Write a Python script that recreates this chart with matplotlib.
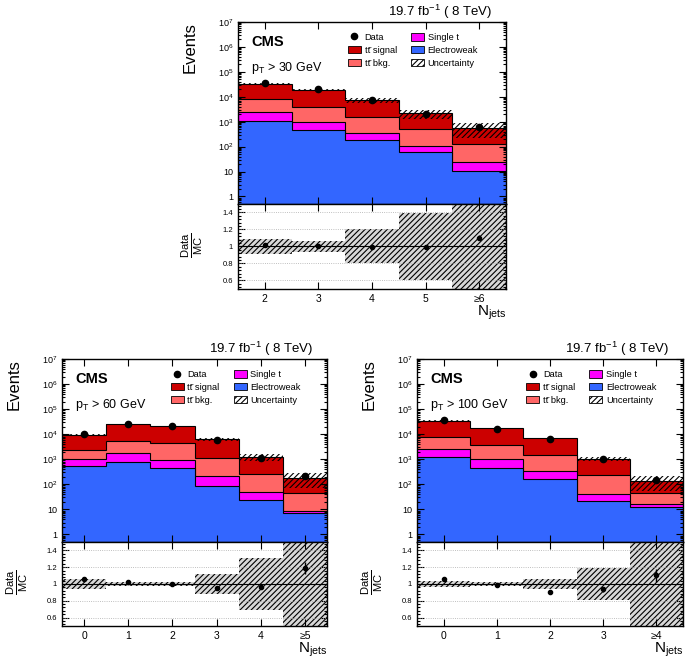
import numpy as np
import matplotlib
matplotlib.use('Agg')
import matplotlib.pyplot as plt
from matplotlib.patches import Patch
from matplotlib.lines import Line2D
from matplotlib.ticker import FixedLocator, MultipleLocator, LogLocator, NullFormatter

plt.rcParams['font.family'] = ['Liberation Sans', 'DejaVu Sans']
plt.rcParams['mathtext.fontset'] = 'custom'
plt.rcParams['mathtext.rm'] = 'Liberation Sans'
plt.rcParams['mathtext.it'] = 'Liberation Sans:italic'
plt.rcParams['mathtext.bf'] = 'Liberation Sans:bold'
plt.rcParams['hatch.linewidth'] = 0.8

COL_SIG = '#cc0000'
COL_BKG = '#ff6666'
COL_ST = '#ff00ff'
COL_EW = '#3366ff'

# pT > 30 GeV
labels_30 = ['2', '3', '4', '5', '≥6']
data_30 = [34700, 19800, 7300, 2130, 595]
sig_30 = [26200, 15600, 5850, 1660, 412]
bkg_30 = [5440, 3000, 1160, 380, 104]
st_30 = [1260, 540, 155, 50, 13]
ew_30 = [1100, 460, 185, 60, 11]
unc_30 = [0.09, 0.06, 0.20, 0.39, 0.60]
rerr_30 = [0.01, 0.01, 0.01, 0.015, 0.03]

# pT > 60 GeV
labels_60 = ['0', '1', '2', '3', '4', '≥5']
data_60 = [9940, 25600, 21500, 6010, 1160, 214]
sig_60 = [7050, 19600, 17100, 5130, 945, 134]
bkg_60 = [1350, 3660, 3460, 960, 205, 37.4]
st_60 = [440, 980, 500, 121, 27, 1.6]
ew_60 = [560, 760, 440, 89, 23, 7]
unc_60 = [0.06, 0.02, 0.02, 0.12, 0.31, 0.60]
rerr_60 = [0.01, 0.008, 0.008, 0.015, 0.03, 0.07]

# pT > 100 GeV
labels_100 = ['0', '1', '2', '3', '≥4']
data_100 = [37000, 16700, 6280, 1000, 152]
sig_100 = [27400, 13200, 5460, 840, 94]
bkg_100 = [5040, 2770, 1110, 190, 28]
st_100 = [1360, 580, 170, 19, 3]
ew_100 = [1200, 450, 160, 21, 13]
unc_100 = [0.03, 0.02, 0.055, 0.19, 0.60]
rerr_100 = [0.006, 0.008, 0.012, 0.03, 0.08]

legend_names = ['Data', 'tt\u0304 signal', 'tt\u0304 bkg.',
                'Single t', 'Electroweak', 'Uncertainty']


def style_axis(ax):
    ax.tick_params(which='both', direction='in', top=True, right=True,
                   width=0.8, color='black')
    ax.tick_params(which='major', length=5)
    ax.tick_params(which='minor', length=2.5)
    for s in ax.spines.values():
        s.set_linewidth(1.0)


def draw_panel(rect_main, rect_ratio, labels, data, sig, bkg, st, ew, unc,
               rerr, cut_text):
    n = len(labels)
    x = np.arange(n)
    edges = np.arange(n + 1) - 0.5
    comps = np.array([ew, st, bkg, sig], dtype=float)
    colors = [COL_EW, COL_ST, COL_BKG, COL_SIG]
    cum = np.cumsum(comps, axis=0)
    total = cum[-1]
    unc = np.array(unc)
    data = np.array(data, dtype=float)

    ax = fig.add_axes(rect_main)
    for level, color in reversed(list(zip(cum, colors))):
        ax.stairs(level, edges, baseline=1e-3, fill=True, color=color, lw=0)
        ax.stairs(level, edges, baseline=None, color='black', lw=0.8)
    ax.stairs(total * (1 + unc), edges, baseline=total * (1 - unc), fill=True,
              facecolor='none', edgecolor='black', hatch='//////', lw=0)
    ax.plot(x, data, 'o', color='black', ms=4.5)

    ax.set_yscale('log')
    ax.set_ylim(0.5, 1e7)
    ax.set_xlim(-0.5, n - 0.5)
    ax.yaxis.set_major_locator(FixedLocator([1, 10, 1e2, 1e3, 1e4, 1e5, 1e6, 1e7]))
    ax.set_yticklabels(['1', '10', '$10^{2}$', '$10^{3}$', '$10^{4}$',
                        '$10^{5}$', '$10^{6}$', '$10^{7}$'])
    ax.yaxis.set_minor_locator(LogLocator(subs=np.arange(2, 10)))
    ax.yaxis.set_minor_formatter(NullFormatter())
    ax.set_xticks(x)
    ax.tick_params(axis='x', labelbottom=False)
    style_axis(ax)
    ax.tick_params(axis='y', labelsize=6.5)

    ax.text(0.05, 0.89, 'CMS', transform=ax.transAxes, fontsize=10.5,
            fontweight='bold', va='center', ha='left')
    ax.text(0.05, 0.75, 'p$_{\\mathrm{T}}$ > ' + cut_text, transform=ax.transAxes,
            fontsize=9, va='center', ha='left')
    ax.text(0.95, 1.004, '19.7 fb$^{-1}$ ( 8 TeV)', transform=ax.transAxes,
            fontsize=9.5, va='bottom', ha='right')
    ax.text(-0.18, 1.0, 'Events', transform=ax.transAxes, fontsize=12,
            rotation=90, va='top', ha='center')

    handles = [
        Line2D([], [], marker='o', color='black', ls='none', ms=4.5),
        Patch(facecolor=COL_SIG, edgecolor='black', lw=0.6),
        Patch(facecolor=COL_BKG, edgecolor='black', lw=0.6),
        Patch(facecolor=COL_ST, edgecolor='black', lw=0.6),
        Patch(facecolor=COL_EW, edgecolor='black', lw=0.6),
        Patch(facecolor='white', edgecolor='black', hatch='//////', lw=0.6),
    ]
    ax.legend(handles, legend_names, ncol=2, loc='upper left',
              bbox_to_anchor=(0.41, 0.94), frameon=False, fontsize=6.7,
              handlelength=1.4, handleheight=0.9, labelspacing=0.4,
              handletextpad=0.4, columnspacing=1.5, borderpad=0,
              borderaxespad=0)

    rx = fig.add_axes(rect_ratio)
    rx.stairs(1 + unc, edges, baseline=1 - unc, fill=True, facecolor='#d8d8d8',
              edgecolor='black', hatch='//////', lw=0)
    for g in [0.6, 0.8, 1.2, 1.4]:
        rx.axhline(g, color='#aaaaaa', ls=':', lw=0.6)
    rx.axhline(1.0, color='black', lw=0.8)
    rx.errorbar(x, data / total, yerr=rerr, fmt='o', color='black', ms=3,
                elinewidth=1, capsize=0)
    rx.set_xlim(-0.5, n - 0.5)
    rx.set_ylim(0.5, 1.5)
    rx.set_xticks(x)
    rx.set_xticklabels(labels, fontsize=7.5)
    rx.set_yticks([0.6, 0.8, 1.0, 1.2, 1.4])
    rx.set_yticklabels(['0.6', '0.8', '1', '1.2', '1.4'])
    rx.yaxis.set_minor_locator(MultipleLocator(0.04))
    style_axis(rx)
    rx.tick_params(axis='y', labelsize=5.5)
    rx.tick_params(axis='x', which='minor', bottom=False, top=False)
    rx.text(1.0, -0.28, 'N$_{\\mathrm{jets}}$', transform=rx.transAxes,
            fontsize=11, va='center', ha='right')
    rx.text(-0.17, 0.52, '$\\frac{\\mathrm{Data}}{\\mathrm{MC}}$',
            transform=rx.transAxes, fontsize=11.5, rotation=90,
            va='center', ha='center')


fig = plt.figure(figsize=(6.85, 6.61), dpi=100)

draw_panel([0.3474, 0.6914, 0.3912, 0.2753], [0.3474, 0.5628, 0.3912, 0.1286],
           labels_30, data_30, sig_30, bkg_30, st_30, ew_30, unc_30, rerr_30,
           '30 GeV')
draw_panel([0.0905, 0.18, 0.3869, 0.2769], [0.0905, 0.053, 0.3869, 0.127],
           labels_60, data_60, sig_60, bkg_60, st_60, ew_60, unc_60, rerr_60,
           '60 GeV')
draw_panel([0.6088, 0.18, 0.3883, 0.2769], [0.6088, 0.053, 0.3883, 0.127],
           labels_100, data_100, sig_100, bkg_100, st_100, ew_100, unc_100,
           rerr_100, '100 GeV')

fig.savefig('out.png', dpi=100)
